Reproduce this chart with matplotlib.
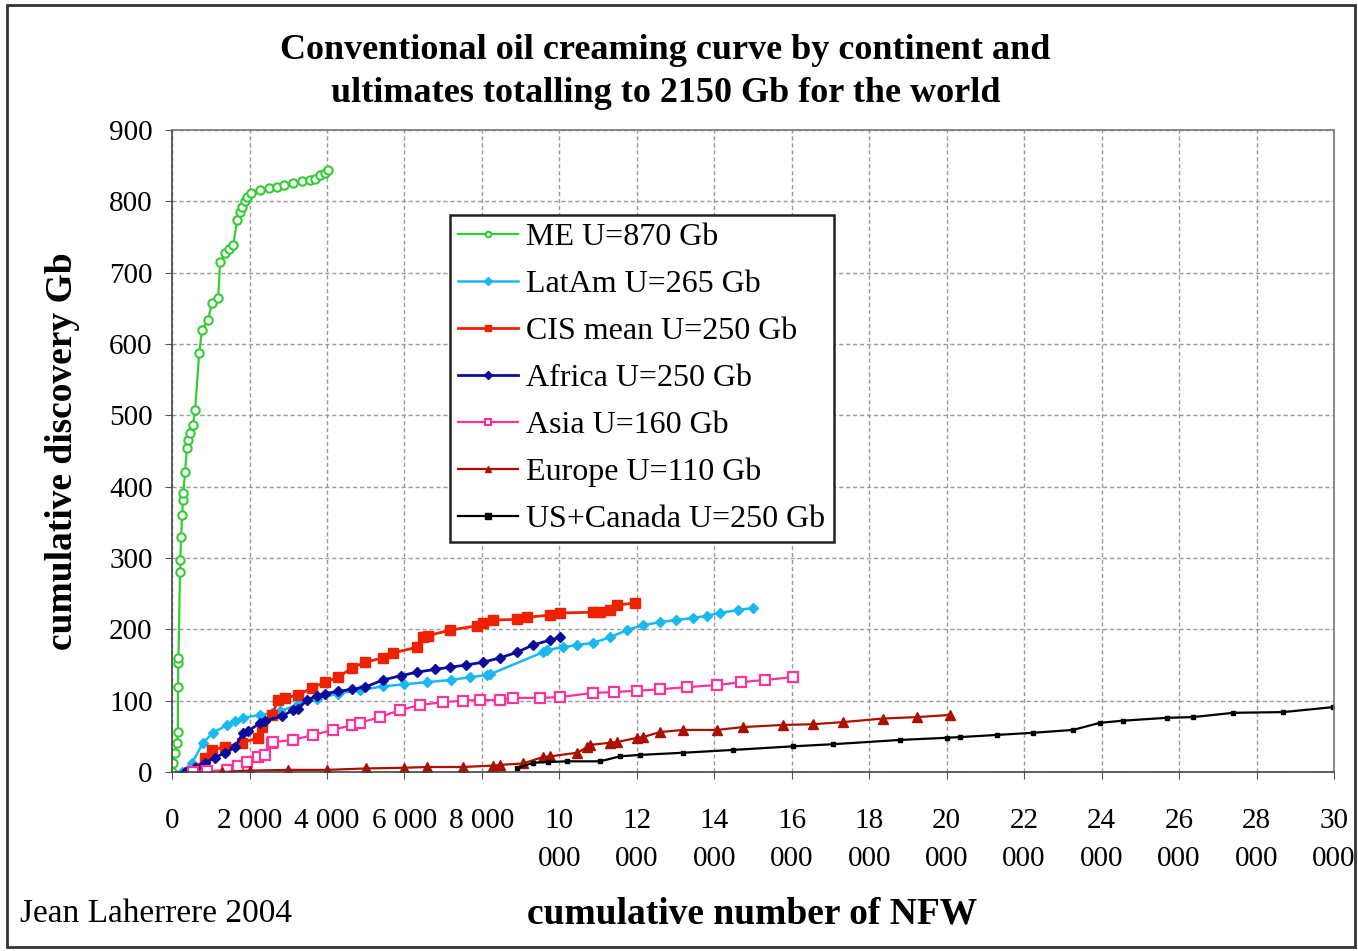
import matplotlib
matplotlib.use("Agg")
import matplotlib.pyplot as plt
from matplotlib.patches import Rectangle

plt.rcParams['font.family'] = ['Liberation Serif', 'DejaVu Serif']

# cumulative NFW (x) vs cumulative discovery in Gb (y), per continent
me_x = [0, 25, 75, 130, 150, 155, 160, 165, 205, 210, 235, 260, 280, 290, 335, 385, 415, 465, 540, 595,
        700, 775, 930, 1030, 1190, 1240, 1370, 1480, 1580, 1680, 1750, 1810, 1880, 1940, 2050, 2270,
        2500, 2710, 2900, 3120, 3350, 3560, 3700, 3820, 3950, 4030]
me_y = [0, 13, 27, 41, 56, 119, 153, 160, 280, 297, 330, 360, 381, 391, 421, 454, 465, 475, 486, 507,
        587, 620, 634, 657, 664, 715, 727, 733, 739, 774, 785, 792, 800, 806, 812, 816,
        818, 820, 823, 826, 828, 830, 832, 837, 840, 844]

latam_x = [260, 520, 800, 1060, 1420, 1630, 1830, 2270, 2580, 2790, 3250, 3740, 4290, 4850, 5450, 6000,
           6580, 7200, 7700, 8130, 8210, 9580, 9680, 10100, 10460, 10870, 11310, 11750, 12160, 12600,
           13000, 13450, 13800, 14150, 14600, 15000]
latam_y = [0, 13, 41, 55, 66, 71, 76, 80, 83, 85, 95, 103, 110, 115, 120, 123,
           126, 129, 133, 136, 137, 168, 171, 175, 178, 181, 189, 199, 206, 210,
           213, 216, 219, 223, 227, 230]

cis_x = [480, 670, 850, 1030, 1370, 1810, 2220, 2320, 2580, 2740, 2920, 3250, 3620, 3950, 4290, 4650,
         4980, 5450, 5710, 6330, 6480, 6600, 7180, 7880, 8030, 8290, 8910, 9170, 9760, 10020, 10870,
         11050, 11310, 11490, 11950]
cis_y = [0, 6, 20, 31, 35, 41, 48, 63, 80, 101, 104, 108, 118, 126, 133, 146,
         154, 160, 167, 175, 189, 191, 199, 205, 209, 213, 214, 217, 220, 223, 224,
         225, 227, 234, 237]

africa_x = [330, 600, 850, 1100, 1370, 1630, 1830, 1960, 2270, 2400, 2840, 3120, 3250, 3490, 3740, 3950,
            4290, 4650, 4980, 5450, 5900, 6330, 6800, 7180, 7600, 8030, 8470, 8910, 9320, 9760, 10020]
africa_y = [0, 6, 13, 20, 27, 35, 55, 57, 69, 72, 78, 87, 89, 101, 107, 110,
            113, 116, 119, 129, 135, 140, 144, 147, 150, 154, 160, 168, 178, 185, 189]

asia_x = [540, 900, 1420, 1700, 1940, 2220, 2400, 2580, 2610, 3120, 3640, 4160, 4650, 4850, 5370, 5890,
          6400, 7000, 7500, 7950, 8470, 8800, 9500, 10020, 10870, 11400, 12010, 12600, 13300, 14070,
          14700, 15300, 16030]
asia_y = [0, 1, 3, 8, 14, 21, 24, 41, 42, 45, 52, 59, 66, 69, 77, 87,
          94, 98, 100, 101, 101, 104, 104, 105, 111, 112, 114, 116, 119, 122,
          126, 129, 133]

europe_x = [1300, 2000, 3000, 4000, 5000, 6000, 6580, 7500, 8290, 8470, 9060, 9580, 9760, 10460, 10720,
            10790, 11310, 11490, 12010, 12160, 12600, 13190, 14070, 14740, 15780, 16550, 17330, 18360,
            19240, 20090]
europe_y = [0, 2, 3, 3, 5, 6, 7, 7, 9, 10, 12, 21, 22, 27, 35,
            38, 41, 42, 48, 49, 56, 59, 59, 63, 66, 67, 70, 75,
            77, 80]

us_x = [8900, 9320, 9700, 10200, 11050, 11570, 12080, 13190, 14490, 16030, 17070, 18800, 20010, 20350,
        21300, 22230, 23260, 23960, 24560, 25690, 26360, 27400, 28690, 29980]
us_y = [5, 13, 14, 15, 15, 22, 24, 27, 31, 36, 39, 45, 48, 49,
        52, 55, 59, 69, 72, 76, 77, 83, 84, 91]

x_ticks = list(range(0, 30001, 2000))
x_tick_labels = ["0", "2 000", "4 000", "6 000", "8 000"] + \
                ["%d\n000" % (t // 1000) for t in x_ticks[5:]]
y_ticks = list(range(0, 901, 100))

fig = plt.figure(figsize=(13.58, 9.51), dpi=100)
ax = fig.add_axes([0.1267, 0.1882, 0.8556, 0.6751])

ax.plot(me_x, me_y, color='#33cc33', lw=1.6, marker='o', ms=6, mfc='white', mec='#33cc33', mew=1.5,
        label='ME U=870 Gb')
ax.plot(latam_x, latam_y, color='#1ab8f0', lw=1.8, marker='D', ms=5, label='LatAm U=265 Gb')
ax.plot(cis_x, cis_y, color='#ee2200', lw=2, marker='s', ms=7, label='CIS mean U=250 Gb')
ax.plot(africa_x, africa_y, color='#0c0c9c', lw=2, marker='D', ms=5, label='Africa U=250 Gb')
ax.plot(asia_x, asia_y, color='#ff3399', lw=1.6, marker='s', ms=7, mfc='white', mec='#ff3399', mew=1.6,
        label='Asia U=160 Gb')
ax.plot(europe_x, europe_y, color='#aa1100', lw=1.6, marker='^', ms=7, label='Europe U=110 Gb')
ax.plot(us_x, us_y, color='black', lw=1.6, marker='s', ms=2.5, label='US+Canada U=250 Gb')

ax.set_xlim(0, 30000)
ax.set_ylim(0, 900)
ax.set_xticks(x_ticks)
ax.set_xticklabels(x_tick_labels)
ax.set_yticks(y_ticks)
ax.tick_params(axis='both', labelsize=21, length=5, color='#555555', direction='out')
ax.tick_params(axis='x', pad=21)
ax.tick_params(axis='y', pad=9)
for t in ax.get_xticklabels():
    t.set_linespacing(1.6)
    t.set_verticalalignment('top')
ax.grid(True, color='#9a9a9a', linestyle=(0, (3, 2)), linewidth=1)
for s in ax.spines.values():
    s.set_color('#777777')
    s.set_linewidth(1.2)
ax.spines['left'].set_color('#444444')
ax.spines['bottom'].set_color('#444444')

# axis titles placed as figure text
fig.text(0.0457, 0.526, 'cumulative discovery Gb', rotation=90, ha='center', va='center',
         fontsize=27, fontweight='bold')
fig.text(0.554, 0.039, 'cumulative number of NFW', ha='center', va='center',
         fontsize=27, fontweight='bold')

fig.text(0.49, 0.924, 'Conventional oil creaming curve by continent and\nultimates totalling to 2150 Gb for the world',
         ha='center', va='center', fontsize=26, fontweight='bold', linespacing=1.4)
fig.text(0.015, 0.039, 'Jean Laherrere 2004', ha='left', va='center', fontsize=24)

leg = ax.legend(loc='upper left', bbox_to_anchor=(0.239, 0.868), fontsize=23, fancybox=False,
                framealpha=1, edgecolor='#222222', handlelength=1.9, borderpad=0.25, labelspacing=0.55,
                handletextpad=0.25, borderaxespad=0)
leg.get_frame().set_linewidth(1.8)
for h in leg.get_lines():
    h.set_markersize(4)

# outer border round the whole figure
fig.patches.append(Rectangle((0.005, 0.004), 0.993, 0.991, transform=fig.transFigure, fill=False,
                             edgecolor='#333333', linewidth=2))

fig.savefig('out.png', dpi=100)
